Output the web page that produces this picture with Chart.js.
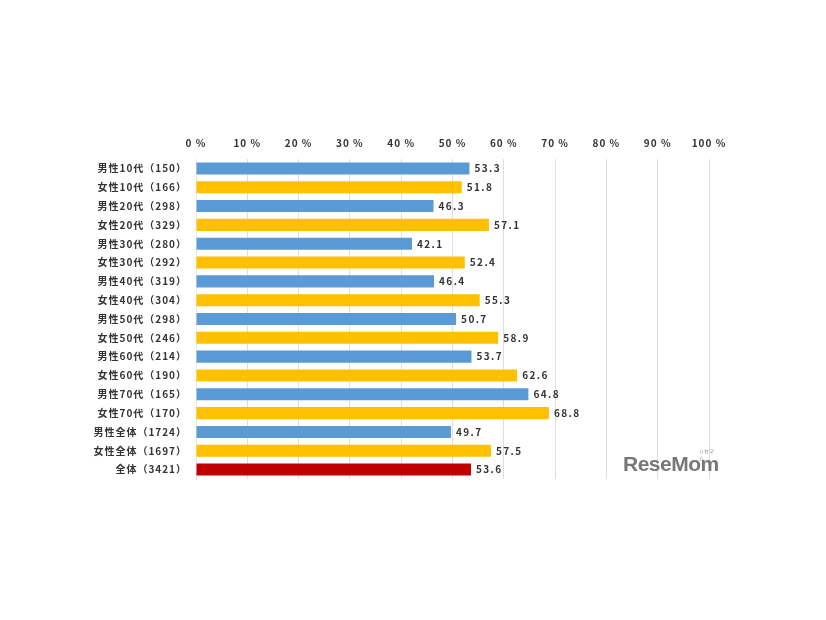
<!DOCTYPE html>
<html>
<head>
<meta charset="utf-8">
<script src="https://cdn.jsdelivr.net/npm/chart.js@4/dist/chart.umd.min.js"></script>
<style>
    html, body { margin: 0; padding: 0; background: #fff; }
    #wrap { position: relative; width: 826px; height: 620px; }
    #logo {
        position: absolute; left: 623px; top: 452px;
        font: bold 21px "Liberation Sans", sans-serif; color: #777; letter-spacing: -0.5px;
    }
    #logo small {
        position: absolute; left: 76px; top: -5px;
        font: 5px "Noto Sans CJK JP", sans-serif; color: #888; letter-spacing: 0;
    }
</style>
</head>
<body>
<div id="wrap">
    <canvas id="chart" width="826" height="620"></canvas>
    <div id="logo">ReseMom<small>リセマム</small></div>
</div>
<script>
const categories = [
    "男性10代（150）", "女性10代（166）", "男性20代（298）", "女性20代（329）",
    "男性30代（280）", "女性30代（292）", "男性40代（319）", "女性40代（304）",
    "男性50代（298）", "女性50代（246）", "男性60代（214）", "女性60代（190）",
    "男性70代（165）", "女性70代（170）", "男性全体（1724）", "女性全体（1697）",
    "全体（3421）"
];
const values = [53.3, 51.8, 46.3, 57.1, 42.1, 52.4, 46.4, 55.3, 50.7, 58.9, 53.7, 62.6, 64.8, 68.8, 49.7, 57.5, 53.6];
const barColors = categories.map((c) =>
    c.startsWith("全体") ? "#c00000" : c.startsWith("男性") ? "#5b9bd5" : "#ffc000"
);

const FONT = '"Noto Sans CJK JP", sans-serif';

// wide letter spacing like the original, set before layout so measuring matches
const spacing = {
    id: "spacing",
    beforeLayout(chart) {
        chart.ctx.letterSpacing = "1px";
    }
};

// value labels at the end of each bar
const valueLabels = {
    id: "valueLabels",
    afterDatasetsDraw(chart) {
        const ctx = chart.ctx;
        const meta = chart.getDatasetMeta(0);
        ctx.save();
        ctx.font = "600 10px " + FONT;
        ctx.letterSpacing = "1.4px";
        ctx.fillStyle = "#333";
        ctx.textBaseline = "middle";
        ctx.textAlign = "left";
        meta.data.forEach((bar, i) => {
            ctx.fillText(values[i].toFixed(1), bar.x + 5, bar.y);
        });
        ctx.restore();
    }
};

new Chart(document.getElementById("chart"), {
    type: "bar",
    data: {
        labels: categories,
        datasets: [{
            data: values,
            backgroundColor: barColors,
            barPercentage: 0.64,
            categoryPercentage: 1.0
        }]
    },
    options: {
        indexAxis: "y",
        responsive: false,
        animation: false,
        layout: { padding: { top: 127, right: 117, bottom: 141, left: 0 } },
        plugins: { legend: { display: false }, tooltip: { enabled: false } },
        scales: {
            x: {
                position: "top",
                min: 0,
                max: 100,
                ticks: {
                    stepSize: 10,
                    padding: 10,
                    color: "#333",
                    font: { family: FONT, size: 10, weight: "600" },
                    callback: (v) => v + " %"
                },
                grid: { color: "#dedede", drawTicks: false },
                border: { display: false },
                afterFit: (s) => { s.height = 32; }
            },
            y: {
                ticks: {
                    color: "#333",
                    font: { family: FONT, size: 10, weight: "600" },
                    padding: 9
                },
                grid: { display: false, drawTicks: false },
                border: { color: "#e6e6e6" },
                afterFit: (s) => { s.width = 196; }
            }
        }
    },
    plugins: [spacing, valueLabels]
});
</script>
</body>
</html>
